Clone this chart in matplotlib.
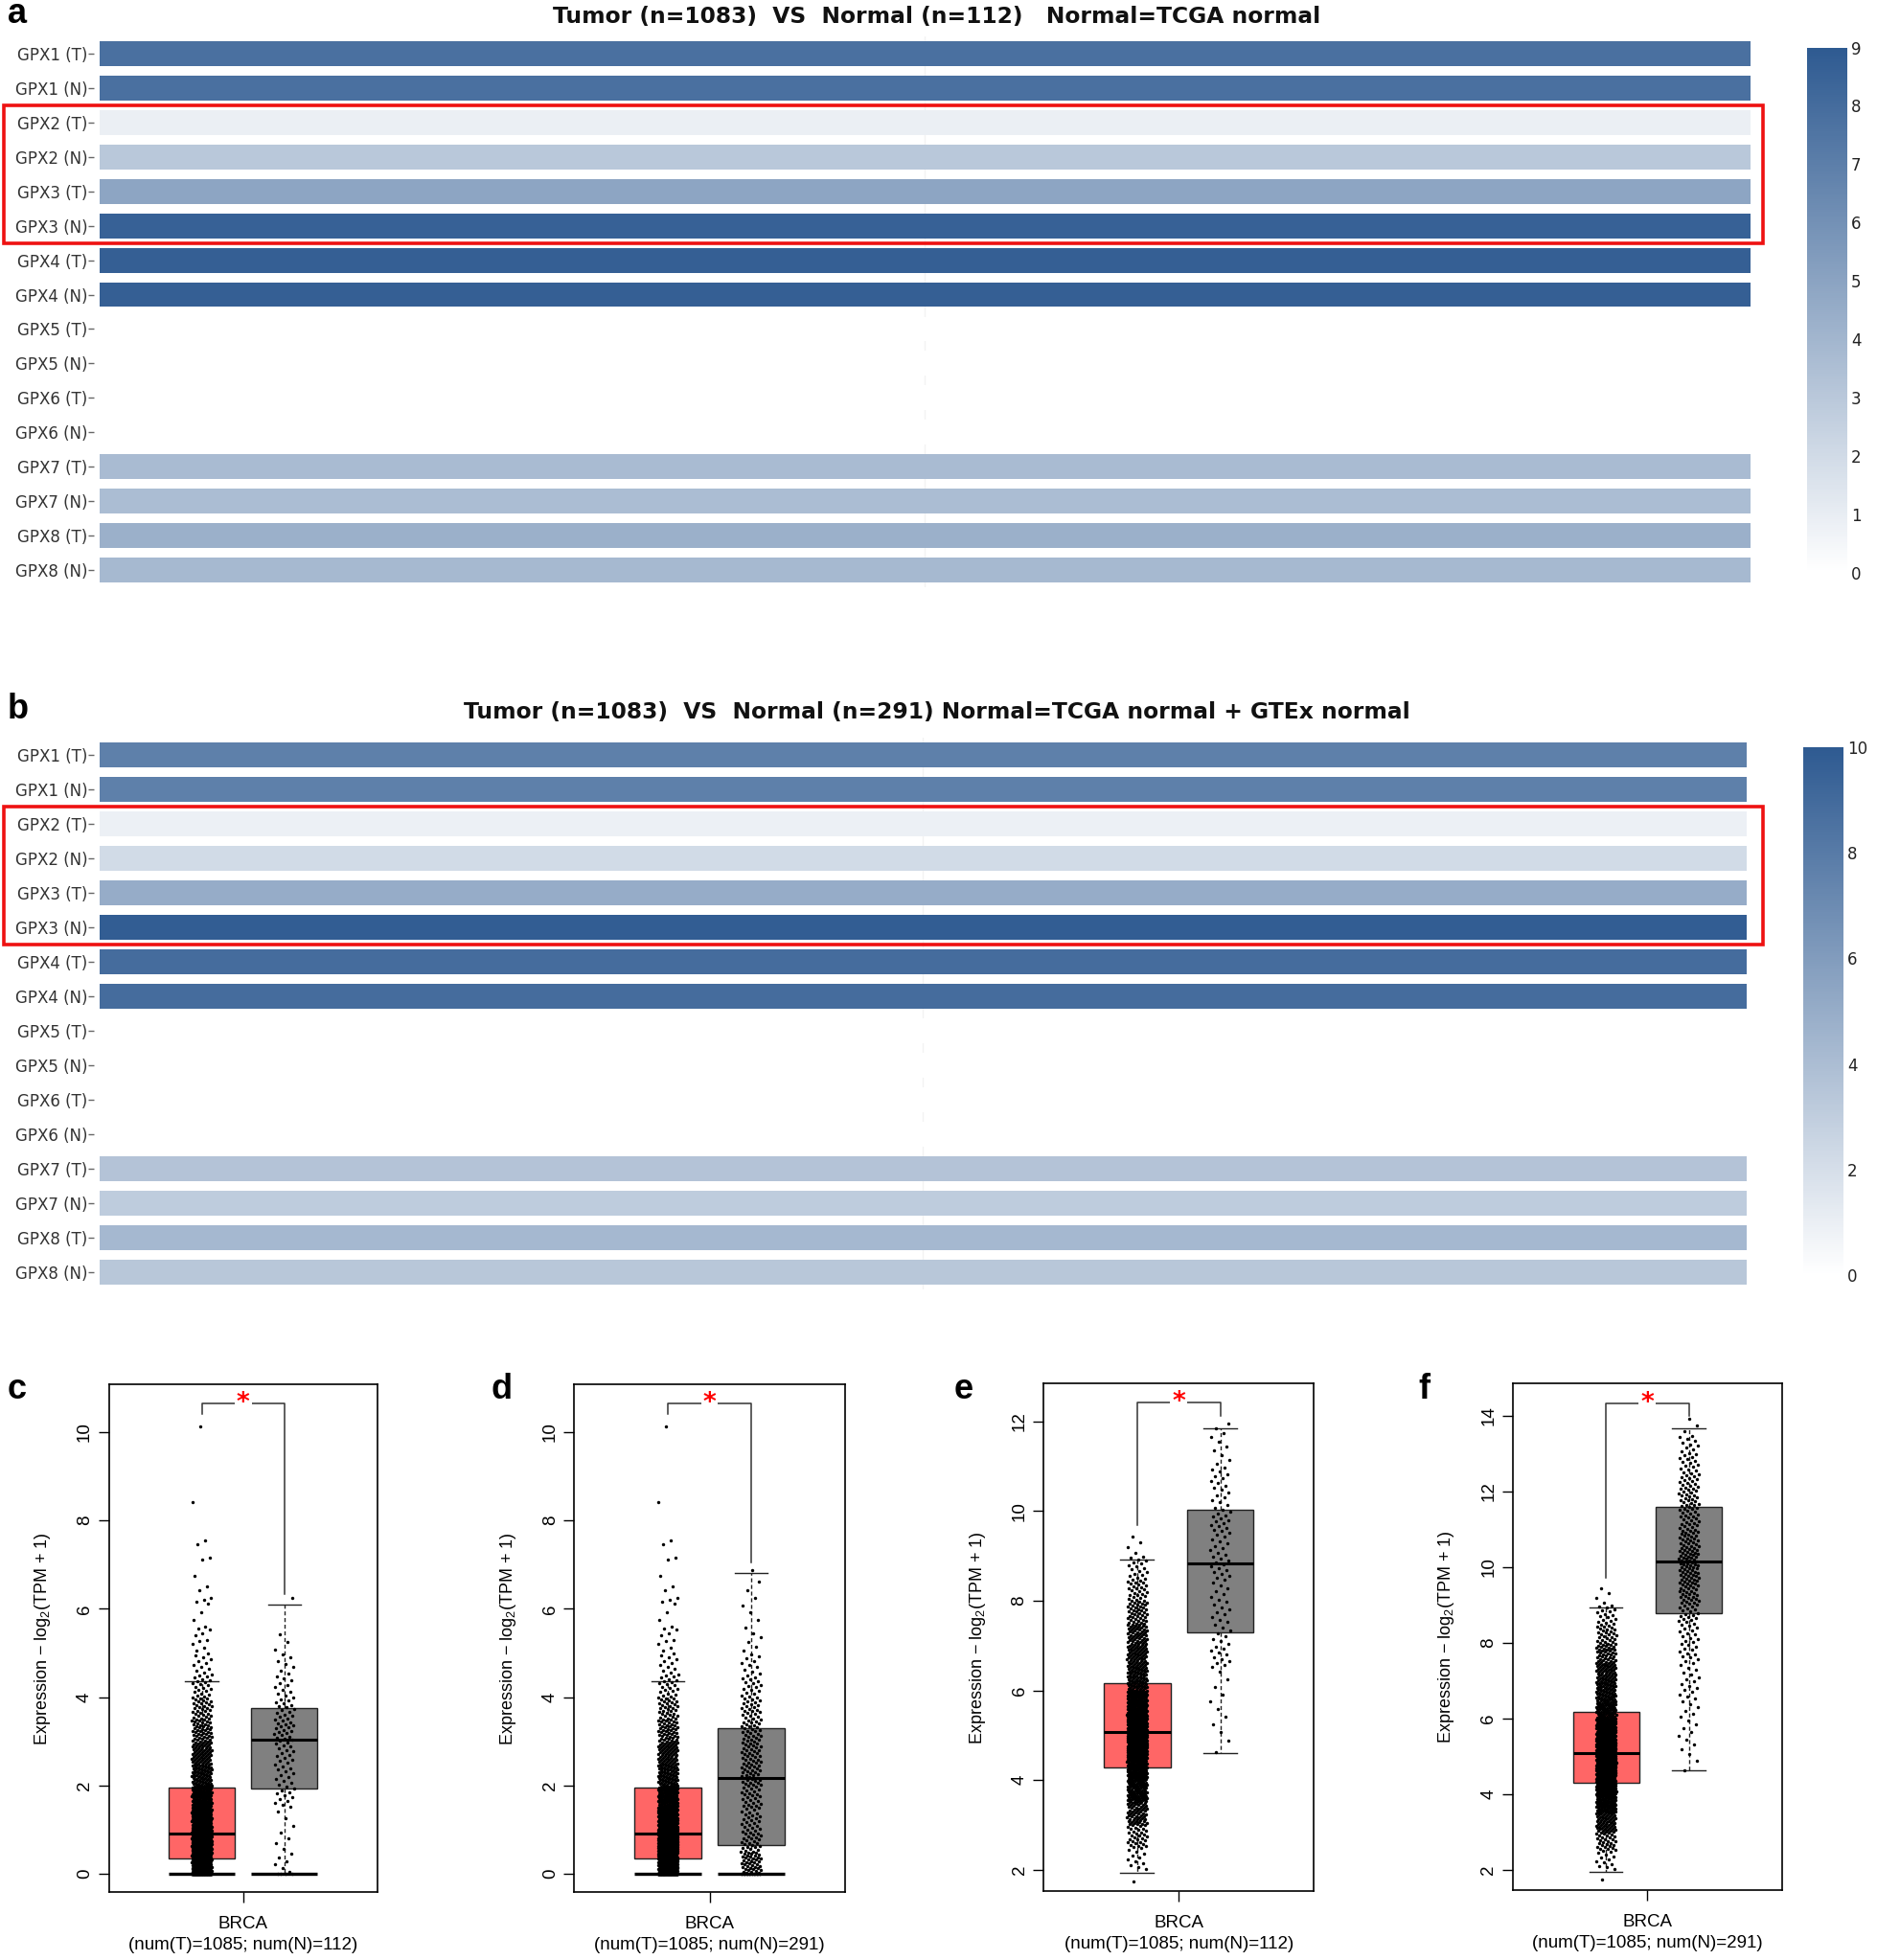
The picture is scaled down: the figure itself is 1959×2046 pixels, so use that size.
import matplotlib
matplotlib.use('Agg')
import matplotlib.pyplot as plt
import matplotlib.transforms as mtransforms
import numpy as np
from matplotlib.colors import LinearSegmentedColormap, Normalize
from matplotlib.cm import ScalarMappable
from matplotlib.patches import Rectangle

plt.rcParams['mathtext.default'] = 'regular'

# ---------------- heatmap data (a, b) ----------------
genes = ['GPX1', 'GPX2', 'GPX3', 'GPX4', 'GPX5', 'GPX6', 'GPX7', 'GPX8']
row_labels = [f'{g} ({s})' for g in genes for s in ('T', 'N')]
heat_a = [7.8, 7.8, 0.9, 3.0, 4.9, 8.6, 8.7, 8.7, 0, 0, 0, 0, 3.7, 3.6, 4.3, 3.8]
heat_b = [7.7, 7.7, 0.9, 2.2, 5.0, 9.8, 8.9, 8.9, 0, 0, 0, 0, 3.6, 3.1, 4.3, 3.4]
title_a = 'Tumor (n=1083)  VS  Normal (n=112)   Normal=TCGA normal'
title_b = 'Tumor (n=1083)  VS  Normal (n=291) Normal=TCGA normal + GTEx normal'
highlight_rows = (2, 5)   # GPX2 (T) .. GPX3 (N)

# ---------------- box plot data (c-f) ----------------
# point clouds as counts per 0.5 bin, plus zeros and sparse tail
gpx2_t_zeros = 150
gpx2_t_counts = [173, 241, 140, 112, 75, 60, 45, 32, 20, 12]          # 0 .. 5
gpx2_t_tail = [10.13, 8.42, 7.54, 7.47, 7.16, 7.12, 6.75, 6.5, 6.43, 6.24, 6.2, 6.15,
               6.11, 5.92, 5.75, 5.6, 5.56, 5.52, 5.45, 5.4, 5.3, 5.27, 5.2, 5.12, 5.05]
gpx2_n112_zeros = 4
gpx2_n112_counts = [6, 4, 3, 12, 12, 14, 20, 16, 10, 7, 3, 0, 1]       # 0 .. 6.5
gpx2_n291_zeros = 20
gpx2_n291_counts = [42, 28, 22, 25, 32, 30, 28, 24, 17, 10, 5, 3, 3, 2]  # 0 .. 7
gpx3_t_counts = [1, 12, 30, 55, 90, 130, 190, 175, 120, 75, 65, 55, 40, 27, 16, 4]  # 1.5 .. 9.5
gpx3_n112_counts = [2, 3, 3, 3, 11, 8, 9, 8, 12, 10, 14, 9, 10, 5, 5]  # 4.5 .. 12
gpx3_n291_counts = [2, 4, 5, 6, 9, 8, 12, 13, 18, 26, 32, 34, 27, 22, 24, 20, 15, 11, 3]  # 4.5 .. 14

# box statistics: whislo, q1, med, q3, whishi
box_gpx2_t = [0.0, 0.34, 0.91, 1.95, 4.36]
box_gpx2_n112 = [0.0, 1.94, 3.03, 3.75, 6.09]
box_gpx2_n291 = [0.0, 0.66, 2.17, 3.29, 6.80]
box_gpx3_t = [1.94, 4.29, 5.08, 6.16, 8.93]
box_gpx3_n112 = [4.61, 7.29, 8.83, 10.03, 11.84]
box_gpx3_n291 = [4.62, 8.79, 10.15, 11.59, 13.67]

# bracket: line level, left arm end, right arm end
bracket_c = [10.64, 10.40, 6.33]
bracket_d = [10.64, 10.40, 7.05]
bracket_e = [12.42, 9.69, 12.13]
bracket_f = [14.33, 9.72, 14.00]
xlabel_c = 'BRCA\n(num(T)=1085; num(N)=112)'
xlabel_d = 'BRCA\n(num(T)=1085; num(N)=291)'


def expand(start, counts, zeros=0, tail=()):
    vals = [0.0] * zeros
    for i, c in enumerate(counts):
        lo = start + i * 0.5
        vals += list(lo + (np.arange(c) + 0.5) / c * 0.5)
    vals += list(tail)
    return np.array(vals)


cmap = LinearSegmentedColormap.from_list('bl', ['#FFFFFF', '#2E5A91'])

fig = plt.figure(figsize=(19.59, 20.46), dpi=100)


def heatmap(rect, crect, vals, vmax, ticks, title, ty, letter):
    ax = fig.add_axes(rect)
    cax = fig.add_axes(crect)
    norm = Normalize(0, vmax)
    y = np.arange(len(vals))
    ax.axvline(0.5, color='#f3f3f3', lw=1, zorder=0)
    ax.barh(y, 1, left=0, height=0.72, color=cmap(norm(np.array(vals))), zorder=2)
    ax.set_xlim(0, 1)
    ax.set_ylim(len(vals) - 0.5, -0.5)
    ax.set_yticks(y, row_labels)
    ax.set_xticks([])
    for s in ax.spines.values():
        s.set_visible(False)
    ax.spines['left'].set_position(('outward', 4))
    ax.tick_params(axis='y', length=4, width=1, color='#666', pad=1,
                   labelsize=12, labelcolor='#333')
    cb = fig.colorbar(ScalarMappable(norm, cmap), cax=cax, ticks=ticks)
    cb.outline.set_visible(False)
    cax.tick_params(length=0, labelsize=12, pad=3, labelcolor='#222')
    # red highlight box around GPX2/GPX3 rows
    tr = mtransforms.blended_transform_factory(fig.transFigure, ax.transData)
    r0, r1 = highlight_rows
    fig.add_artist(Rectangle((0.002, r0 - 0.5), 0.937, r1 - r0 + 1, transform=tr,
                             fill=False, ec='#EE1111', lw=2.6, zorder=10))
    fig.text(0.499, ty, title, ha='center', va='baseline', fontsize=16.8,
             fontweight='bold', color='#111')
    fig.text(0.004, ty, letter, ha='left', va='baseline', fontsize=26,
             fontweight='bold', family='Liberation Sans')
    return ax


heatmap([0.053, 0.7004, 0.8796, 0.281], [0.9627, 0.7079, 0.0214, 0.2679],
        heat_a, 9, range(0, 10), title_a, 0.9885, 'a')
heatmap([0.053, 0.3419, 0.8776, 0.2818], [0.9607, 0.3495, 0.0214, 0.2693],
        heat_b, 10, range(0, 11, 2), title_b, 0.6334, 'b')


def boxpanel(rect, tumor, normal, st_t, st_n, ylim, yticks, bracket, zero_cap, xlabel, letter, lx):
    ax = fig.add_axes(rect)
    stats = []
    for s in (st_t, st_n):
        stats.append(dict(whislo=s[0], q1=s[1], med=s[2], q3=s[3], whishi=s[4]))
    bp = ax.bxp(stats, positions=[1, 2], widths=0.8, capwidths=0.4, showfliers=False,
                patch_artist=True,
                boxprops=dict(edgecolor='#222', linewidth=1),
                medianprops=dict(color='black', linewidth=2.2),
                whiskerprops=dict(color='#222', linewidth=1, linestyle=(0, (3, 2))),
                capprops=dict(color='#222', linewidth=1))
    for b, fc in zip(bp['boxes'], ['#FF6666', '#808080']):
        b.set_facecolor(fc)
    for pos, vals in ((1, tumor), (2, normal)):
        n = len(vals)
        jit = (np.mod(np.arange(n) * 0.618034 + 0.3, 1) - 0.5) * 0.24
        ax.scatter(pos + jit, vals, s=6, c='black', linewidths=0, zorder=4)
    if zero_cap:
        ax.hlines([0, 0], [0.6, 1.6], [1.4, 2.4], colors='black', lw=2.4, zorder=5)
    yb, yl, yr = bracket
    ax.plot([1, 1, 2, 2], [yl, yb, yb, yr], color='#333', lw=1.1, zorder=5)
    ax.text(1.5, yb, '*', color='red', ha='center', va='center', fontsize=19,
            fontweight='bold', zorder=6, bbox=dict(fc='white', ec='none', pad=1.5))
    ax.set_xlim(-0.125, 3.125)
    ax.set_ylim(*ylim)
    ax.set_yticks(yticks)
    ax.set_xticks([1.5], [xlabel])
    ax.tick_params(axis='x', length=8, width=1, labelsize=13.5, pad=10)
    ax.tick_params(axis='y', length=8, width=1, labelsize=13.5, labelrotation=90, pad=4)
    for t in ax.get_yticklabels():
        t.set_va('center')
        t.set_family('Liberation Sans')
    for t in ax.get_xticklabels():
        t.set_family('Liberation Sans')
        t.set_linespacing(1.35)
    for s in ax.spines.values():
        s.set_linewidth(1.2)
    ax.set_ylabel('Expression $-$ log$_2$(TPM $+$ 1)', fontsize=13,
                  family='Liberation Sans', labelpad=18)
    fig.text(lx, 0.2865, letter, ha='left', va='baseline', fontsize=26,
             fontweight='bold', family='Liberation Sans')
    return ax


gpx2_t = expand(0.0, gpx2_t_counts, gpx2_t_zeros, gpx2_t_tail)
gpx2_n112 = expand(0.0, gpx2_n112_counts, gpx2_n112_zeros)
gpx2_n291 = expand(0.0, gpx2_n291_counts, gpx2_n291_zeros)
gpx3_t = expand(1.5, gpx3_t_counts)
gpx3_n112 = expand(4.5, gpx3_n112_counts)
gpx3_n291 = expand(4.5, gpx3_n291_counts)

boxpanel([0.058, 0.0345, 0.143, 0.2592], gpx2_t, gpx2_n112, box_gpx2_t, box_gpx2_n112,
         (-0.42, 11.08), [0, 2, 4, 6, 8, 10], bracket_c, True, xlabel_c, 'c', 0.004)
boxpanel([0.306, 0.0345, 0.144, 0.2592], gpx2_t, gpx2_n291, box_gpx2_t, box_gpx2_n291,
         (-0.42, 11.08), [0, 2, 4, 6, 8, 10], bracket_d, True, xlabel_d, 'd', 0.2615)
boxpanel([0.556, 0.035, 0.144, 0.259], gpx3_t, gpx3_n112, box_gpx3_t, box_gpx3_n112,
         (1.52, 12.84), [2, 4, 6, 8, 10, 12], bracket_e, False, xlabel_c, 'e', 0.508)
boxpanel([0.806, 0.0355, 0.1434, 0.2585], gpx3_t, gpx3_n291, box_gpx3_t, box_gpx3_n291,
         (1.45, 14.85), [2, 4, 6, 8, 10, 12, 14], bracket_f, False, xlabel_d, 'f', 0.7555)

fig.savefig('out.png', dpi=100)
